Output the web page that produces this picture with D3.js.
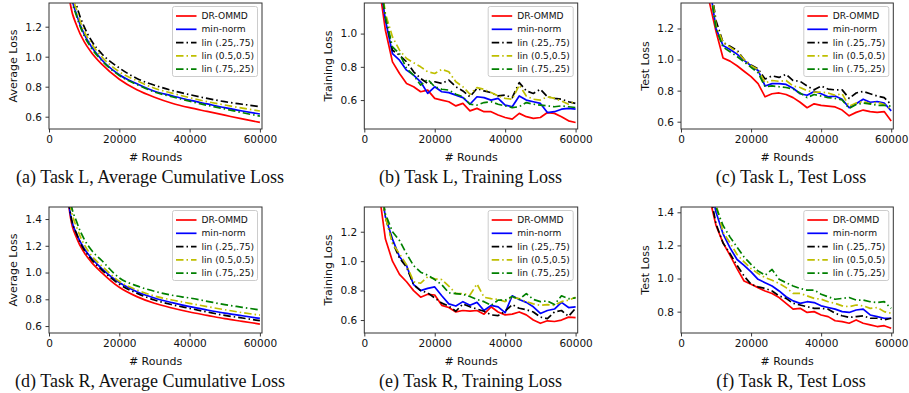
<!DOCTYPE html>
<html>
<head>
<meta charset="utf-8">
<script src="https://cdn.jsdelivr.net/npm/d3@7"></script>
<style>
  body { margin: 0; background: #fff; }
  svg { display: block; }
  .tick text { font-family: "DejaVu Sans", sans-serif; font-size: 10.5px; fill: #111; }
  .axis-label { font-family: "DejaVu Sans", sans-serif; font-size: 11px; fill: #111; }
  .caption { font-family: "Liberation Serif", "Times New Roman", serif; font-size: 18px; fill: #111; }
  .legend text { font-family: "DejaVu Sans", sans-serif; font-size: 9.1px; fill: #111; }
</style>
</head>
<body>
<div id="chart"></div>
<script>
// series names, one per method
const seriesNames = ["DR-OMMD", "min-norm", "lin (.25,.75)", "lin (0.5,0.5)", "lin (.75,.25)"];

// x values for the smooth average cumulative loss curves
const avgRounds = [2000, 4000, 6000, 8000, 10000, 12000, 15000, 20000, 25000, 30000, 35000, 40000, 45000, 50000, 55000, 60000];
// x values for the noisy training / test curves
const rounds = [2000, 4000, 6000, 8000, 10000, 12000, 14000, 16000, 18000, 20000, 22000, 24000, 26000, 28000, 30000,
                32000, 34000, 36000, 38000, 40000, 42000, 44000, 46000, 48000, 50000, 52000, 54000, 56000, 58000, 60000];

const xTicks = [0, 20000, 40000, 60000];

// (a) Task L, average cumulative loss
const avgL_dr  = [3.0, 1.8, 1.36, 1.2, 1.1, 1.03, 0.95, 0.85, 0.78, 0.73, 0.69, 0.66, 0.635, 0.61, 0.585, 0.562];
const avgL_mn  = [3.2, 2.0, 1.46, 1.27, 1.15, 1.07, 0.98, 0.88, 0.82, 0.77, 0.74, 0.71, 0.685, 0.66, 0.638, 0.618];
const avgL_l25 = [3.3, 2.1, 1.55, 1.33, 1.2, 1.11, 1.02, 0.925, 0.855, 0.81, 0.775, 0.747, 0.722, 0.70, 0.683, 0.667];
const avgL_l50 = [3.25, 2.05, 1.5, 1.3, 1.17, 1.09, 1.0, 0.90, 0.84, 0.79, 0.757, 0.727, 0.70, 0.678, 0.657, 0.638];
const avgL_l75 = [3.2, 2.0, 1.45, 1.26, 1.14, 1.06, 0.975, 0.875, 0.815, 0.765, 0.733, 0.703, 0.676, 0.652, 0.627, 0.604];

// (b) Task L, training loss
const trainL_dr  = [2.0, 1.32, 1.02, 0.83, 0.76, 0.70, 0.68, 0.65, 0.66, 0.61, 0.60, 0.59, 0.565, 0.58, 0.535, 0.55, 0.53, 0.53, 0.51, 0.495, 0.485, 0.52, 0.50, 0.49, 0.495, 0.525, 0.52, 0.50, 0.475, 0.465];
const trainL_mn  = [2.0, 1.38, 1.08, 0.88, 0.84, 0.78, 0.75, 0.71, 0.64, 0.68, 0.65, 0.645, 0.63, 0.615, 0.575, 0.62, 0.615, 0.60, 0.61, 0.57, 0.56, 0.625, 0.60, 0.59, 0.58, 0.525, 0.53, 0.545, 0.55, 0.545];
const trainL_l25 = [2.0, 1.40, 1.10, 0.90, 0.87, 0.83, 0.77, 0.73, 0.70, 0.71, 0.70, 0.72, 0.68, 0.655, 0.62, 0.67, 0.655, 0.645, 0.625, 0.63, 0.615, 0.705, 0.655, 0.64, 0.665, 0.62, 0.61, 0.605, 0.59, 0.58];
const trainL_l50 = [2.0, 1.42, 1.12, 0.98, 0.90, 0.85, 0.825, 0.80, 0.77, 0.76, 0.785, 0.77, 0.71, 0.68, 0.635, 0.675, 0.665, 0.645, 0.625, 0.61, 0.605, 0.69, 0.625, 0.605, 0.60, 0.62, 0.61, 0.595, 0.575, 0.595];
const trainL_l75 = [2.0, 1.40, 1.10, 0.92, 0.88, 0.79, 0.75, 0.69, 0.725, 0.68, 0.665, 0.66, 0.635, 0.62, 0.575, 0.57, 0.585, 0.59, 0.575, 0.565, 0.555, 0.56, 0.585, 0.575, 0.57, 0.565, 0.56, 0.565, 0.56, 0.555];

// (c) Task L, test loss
const testL_dr  = [2.2, 1.9, 1.6, 1.38, 1.18, 1.01, 0.99, 0.96, 0.925, 0.89, 0.845, 0.76, 0.78, 0.785, 0.775, 0.755, 0.725, 0.69, 0.715, 0.705, 0.70, 0.695, 0.675, 0.638, 0.66, 0.675, 0.665, 0.66, 0.665, 0.605];
const testL_mn  = [2.3, 2.0, 1.75, 1.5, 1.2, 1.09, 1.065, 1.035, 0.995, 0.96, 0.93, 0.83, 0.845, 0.845, 0.84, 0.815, 0.78, 0.77, 0.795, 0.78, 0.76, 0.765, 0.745, 0.69, 0.715, 0.745, 0.725, 0.73, 0.72, 0.67];
const testL_l25 = [2.4, 2.1, 1.8, 1.55, 1.25, 1.11, 1.085, 1.06, 1.0, 0.965, 0.94, 0.875, 0.895, 0.885, 0.905, 0.865, 0.86, 0.83, 0.805, 0.83, 0.81, 0.805, 0.805, 0.75, 0.785, 0.795, 0.78, 0.765, 0.755, 0.71];
const testL_l50 = [2.4, 2.05, 1.8, 1.55, 1.22, 1.11, 1.08, 1.05, 1.0, 0.96, 0.935, 0.85, 0.865, 0.86, 0.865, 0.83, 0.82, 0.80, 0.79, 0.79, 0.785, 0.77, 0.78, 0.70, 0.72, 0.73, 0.715, 0.725, 0.71, 0.68];
const testL_l75 = [2.3, 2.0, 1.75, 1.5, 1.2, 1.08, 1.05, 1.02, 0.985, 0.95, 0.915, 0.825, 0.83, 0.825, 0.82, 0.81, 0.785, 0.755, 0.775, 0.765, 0.755, 0.75, 0.74, 0.685, 0.71, 0.72, 0.715, 0.705, 0.705, 0.70];

// (d) Task R, average cumulative loss
const avgR_dr  = [3.0, 2.0, 1.43, 1.25, 1.15, 1.08, 1.0, 0.89, 0.82, 0.77, 0.735, 0.705, 0.68, 0.655, 0.635, 0.615];
const avgR_mn  = [3.1, 2.05, 1.45, 1.28, 1.18, 1.11, 1.03, 0.925, 0.857, 0.81, 0.775, 0.745, 0.72, 0.697, 0.677, 0.657];
const avgR_l25 = [3.1, 2.05, 1.46, 1.28, 1.17, 1.10, 1.02, 0.913, 0.845, 0.795, 0.76, 0.732, 0.705, 0.68, 0.66, 0.64];
const avgR_l50 = [3.2, 2.15, 1.52, 1.33, 1.21, 1.13, 1.05, 0.935, 0.87, 0.825, 0.795, 0.77, 0.745, 0.722, 0.70, 0.682];
const avgR_l75 = [3.3, 2.2, 1.56, 1.37, 1.25, 1.17, 1.09, 0.96, 0.90, 0.86, 0.83, 0.81, 0.785, 0.76, 0.74, 0.72];

// (e) Task R, training loss
const trainR_dr  = [2.0, 1.5, 1.15, 1.0, 0.91, 0.86, 0.80, 0.755, 0.775, 0.77, 0.70, 0.685, 0.655, 0.665, 0.66, 0.665, 0.64, 0.69, 0.655, 0.635, 0.64, 0.655, 0.635, 0.60, 0.578, 0.595, 0.59, 0.60, 0.62, 0.617];
const trainR_mn  = [2.0, 1.6, 1.3, 1.15, 1.03, 0.97, 0.84, 0.80, 0.815, 0.825, 0.765, 0.71, 0.695, 0.725, 0.70, 0.72, 0.665, 0.70, 0.69, 0.65, 0.765, 0.74, 0.72, 0.69, 0.645, 0.665, 0.675, 0.72, 0.685, 0.69];
const trainR_l25 = [2.0, 1.6, 1.3, 1.13, 1.02, 0.96, 0.84, 0.80, 0.785, 0.75, 0.715, 0.695, 0.66, 0.71, 0.69, 0.675, 0.66, 0.635, 0.63, 0.66, 0.705, 0.68, 0.67, 0.655, 0.62, 0.61, 0.655, 0.665, 0.625, 0.68];
const trainR_l50 = [2.0, 1.6, 1.3, 1.12, 1.05, 0.975, 0.86, 0.85, 0.895, 0.88, 0.875, 0.83, 0.78, 0.78, 0.77, 0.845, 0.755, 0.745, 0.74, 0.725, 0.755, 0.745, 0.725, 0.71, 0.70, 0.705, 0.70, 0.725, 0.735, 0.755];
const trainR_l75 = [2.0, 1.6, 1.32, 1.2, 1.14, 1.05, 0.97, 0.925, 0.905, 0.875, 0.84, 0.785, 0.78, 0.775, 0.76, 0.74, 0.725, 0.70, 0.735, 0.735, 0.76, 0.74, 0.78, 0.74, 0.725, 0.73, 0.705, 0.765, 0.745, 0.75];

// (f) Task R, test loss
const testR_dr  = [2.2, 1.95, 1.7, 1.5, 1.32, 1.215, 1.14, 1.06, 0.985, 0.965, 0.945, 0.925, 0.91, 0.885, 0.85, 0.815, 0.82, 0.795, 0.80, 0.78, 0.77, 0.745, 0.74, 0.73, 0.75, 0.73, 0.72, 0.71, 0.715, 0.70];
const testR_mn  = [2.4, 2.1, 1.85, 1.6, 1.4, 1.27, 1.185, 1.115, 1.08, 1.04, 0.995, 0.975, 0.955, 0.925, 0.89, 0.865, 0.85, 0.86, 0.855, 0.835, 0.825, 0.815, 0.80, 0.795, 0.81, 0.815, 0.78, 0.77, 0.76, 0.76];
const testR_l25 = [2.3, 2.0, 1.75, 1.55, 1.33, 1.215, 1.15, 1.08, 1.015, 0.965, 0.95, 0.94, 0.925, 0.895, 0.88, 0.85, 0.84, 0.83, 0.82, 0.82, 0.815, 0.79, 0.775, 0.765, 0.77, 0.775, 0.76, 0.76, 0.75, 0.76];
const testR_l50 = [2.5, 2.2, 1.9, 1.65, 1.45, 1.28, 1.215, 1.145, 1.1, 1.06, 1.03, 1.005, 0.99, 0.97, 0.945, 0.91, 0.91, 0.895, 0.88, 0.875, 0.86, 0.85, 0.835, 0.83, 0.84, 0.835, 0.82, 0.825, 0.80, 0.79];
const testR_l75 = [2.5, 2.2, 1.95, 1.7, 1.43, 1.32, 1.25, 1.19, 1.13, 1.085, 1.045, 1.02, 1.055, 0.995, 0.975, 0.955, 0.94, 0.93, 0.93, 0.905, 0.89, 0.875, 0.88, 0.885, 0.87, 0.87, 0.86, 0.855, 0.86, 0.82];

// y tick labels for each panel
const yTicksA = [0.6, 0.8, 1.0, 1.2];
const yTicksB = [0.6, 0.8, 1.0];
const yTicksC = [0.6, 0.8, 1.0, 1.2];
const yTicksD = [0.6, 0.8, 1.0, 1.2, 1.4];
const yTicksE = [0.6, 0.8, 1.0, 1.2];
const yTicksF = [0.8, 1.0, 1.2, 1.4];

const colors = ["#ff0000", "#0000ff", "#000000", "#bfbf00", "#008000"];
const dashes = [null, null, "7.5,3,1.5,3", "7.5,3,1.5,3", "7.5,3,1.5,3"];

const width = 909, height = 393;
const svg = d3.select("#chart").append("svg")
    .attr("width", width)
    .attr("height", height);

const cols = [
    {left: 49, right: 262, capX: 150},
    {left: 364.3, right: 577.7, capX: 470.5},
    {left: 681, right: 893.3, capX: 791}
];
const rows = [{top: 3, bottom: 129}, {top: 207, bottom: 333}];

const panels = [
    {row: 0, col: 0, x: avgRounds, ys: [avgL_dr, avgL_mn, avgL_l25, avgL_l50, avgL_l75], yDom: [0.518, 1.358], ticks: yTicksA, ylabel: "Average Loss", caption: "(a) Task L, Average Cumulative Loss", smooth: true},
    {row: 0, col: 1, x: rounds, ys: [trainL_dr, trainL_mn, trainL_l25, trainL_l50, trainL_l75], yDom: [0.426, 1.184], ticks: yTicksB, ylabel: "Training Loss", caption: "(b) Task L, Training Loss"},
    {row: 0, col: 2, x: rounds, ys: [testL_dr, testL_mn, testL_l25, testL_l50, testL_l75], yDom: [0.553, 1.364], ticks: yTicksC, ylabel: "Test Loss", caption: "(c) Task L, Test Loss"},
    {row: 1, col: 0, x: avgRounds, ys: [avgR_dr, avgR_mn, avgR_l25, avgR_l50, avgR_l75], yDom: [0.548, 1.49], ticks: yTicksD, ylabel: "Average Loss", caption: "(d) Task R, Average Cumulative Loss", smooth: true},
    {row: 1, col: 1, x: rounds, ys: [trainR_dr, trainR_mn, trainR_l25, trainR_l50, trainR_l75], yDom: [0.512, 1.368], ticks: yTicksE, ylabel: "Training Loss", caption: "(e) Task R, Training Loss"},
    {row: 1, col: 2, x: rounds, ys: [testR_dr, testR_mn, testR_l25, testR_l50, testR_l75], yDom: [0.671, 1.432], ticks: yTicksF, ylabel: "Test Loss", caption: "(f) Task R, Test Loss"}
];

panels.forEach(function(p, pi) {
    let c = cols[p.col], r = rows[p.row];
    let xScale = d3.scaleLinear().domain([0, 60600]).range([c.left, c.right]);
    let yScale = d3.scaleLinear().domain(p.yDom).range([r.bottom, r.top]);

    let g = svg.append("g");

    //clip lines to the plot box
    svg.append("clipPath").attr("id", "clip" + pi)
        .append("rect")
        .attr("x", c.left).attr("y", r.top)
        .attr("width", c.right - c.left).attr("height", r.bottom - r.top);

    let line = d3.line()
        .x(function(d) { return xScale(d[0]); })
        .y(function(d) { return yScale(d[1]); })
        .curve(p.smooth ? d3.curveMonotoneX : d3.curveLinear);

    let lines = g.append("g").attr("clip-path", "url(#clip" + pi + ")");
    p.ys.forEach(function(vals, si) {
        let pts = vals.map(function(v, i) { return [p.x[i], v]; });
        lines.append("path")
            .datum(pts)
            .attr("fill", "none")
            .attr("stroke", colors[si])
            .attr("stroke-width", 1.7)
            .attr("stroke-dasharray", dashes[si])
            .attr("stroke-linejoin", "round")
            .attr("d", line);
    });

    //axes
    let xAxis = g.append("g")
        .attr("transform", "translate(0," + r.bottom + ")")
        .call(d3.axisBottom(xScale).tickValues(xTicks).tickFormat(d3.format("d")).tickSize(3.5).tickPadding(3.5));
    let yAxis = g.append("g")
        .attr("transform", "translate(" + c.left + ",0)")
        .call(d3.axisLeft(yScale).tickValues(p.ticks).tickFormat(d3.format(".1f")).tickSize(3.5).tickPadding(3.5));
    [xAxis, yAxis].forEach(function(a) {
        a.select(".domain").remove();
        a.selectAll(".tick line").attr("stroke", "#222").attr("stroke-width", 0.9);
    });

    //plot frame
    g.append("rect")
        .attr("x", c.left).attr("y", r.top)
        .attr("width", c.right - c.left).attr("height", r.bottom - r.top)
        .attr("fill", "none").attr("stroke", "#333").attr("stroke-width", 1);

    //labels
    g.append("text").attr("class", "axis-label")
        .attr("x", (c.left + c.right) / 2).attr("y", r.bottom + 32)
        .attr("text-anchor", "middle")
        .text("# Rounds");
    g.append("text").attr("class", "axis-label")
        .attr("transform", "translate(" + (c.left - 36) + "," + ((r.top + r.bottom) / 2) + ") rotate(-90)")
        .attr("text-anchor", "middle")
        .attr("dominant-baseline", "central")
        .text(p.ylabel);
    g.append("text").attr("class", "caption")
        .attr("x", c.capX).attr("y", r.bottom + 54)
        .attr("text-anchor", "middle")
        .text(p.caption);

    //legend
    let lw = 85, lh = 70;
    let lx = c.right - 4.5 - lw, ly = r.top + 3.5;
    let leg = g.append("g").attr("class", "legend");
    leg.append("rect")
        .attr("x", lx).attr("y", ly).attr("width", lw).attr("height", lh)
        .attr("rx", 2).attr("fill", "#fff").attr("fill-opacity", 0.85)
        .attr("stroke", "#cccccc").attr("stroke-width", 1);
    seriesNames.forEach(function(name, si) {
        let yy = ly + 9.5 + si * 13.3;
        leg.append("line")
            .attr("x1", lx + 3.5).attr("x2", lx + 24)
            .attr("y1", yy).attr("y2", yy)
            .attr("stroke", colors[si]).attr("stroke-width", 1.7)
            .attr("stroke-dasharray", dashes[si]);
        leg.append("text")
            .attr("x", lx + 29).attr("y", yy)
            .attr("dominant-baseline", "central")
            .text(name);
    });
});
</script>
</body>
</html>
